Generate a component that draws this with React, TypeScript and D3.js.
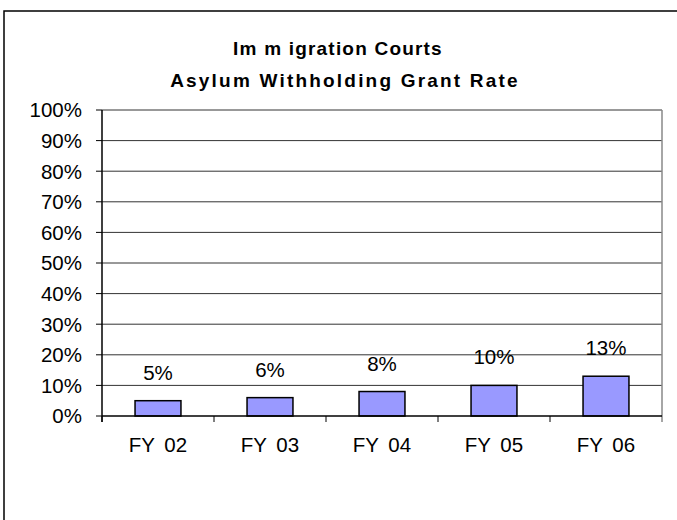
import React from 'react'
import { scaleBand, scaleLinear, range } from 'd3'

const categories = ['FY 02', 'FY 03', 'FY 04', 'FY 05', 'FY 06']
const grantRate = [5, 6, 8, 10, 13]
const yTicks = [0, 10, 20, 30, 40, 50, 60, 70, 80, 90, 100]
const titleLines = ['Im m igration Courts', 'Asylum Withholding Grant Rate']

const W = 677
const H = 520
const margin = { top: 110, right: 15, bottom: 104, left: 102 }
const font = '"Liberation Sans", Arial, sans-serif'

export default function App() {
  const x = scaleBand().domain(categories).range([margin.left, W - margin.right]).paddingInner(0).paddingOuter(0)
  const y = scaleLinear().domain([0, 100]).range([H - margin.bottom, margin.top])
  const barW = x.bandwidth() * 0.41
  const x0 = margin.left
  const x1 = W - margin.right
  const base = y(0)

  return (
    <svg width={W} height={H} style={{ position: 'absolute', left: 0, top: 0, background: '#fff' }}>
      {/* outer frame, runs past the picture on the right and bottom */}
      <rect x={4} y={11} width={W + 10} height={H + 10} fill="none" stroke="#000" strokeWidth={1.5} />

      {titleLines.map((t, i) => (
        <text key={t} x={i === 0 ? 338 : 345} y={55 + i * 32} textAnchor="middle" fontFamily={font} fontWeight="bold" fontSize={19}
          letterSpacing={i === 0 ? 1.2 : 2.2} xmlSpace="preserve">{t}</text>
      ))}

      {yTicks.map(t => (
        <g key={t}>
          {t > 0 && <line x1={x0} x2={x1} y1={y(t)} y2={y(t)} stroke="#333" strokeWidth={1} />}
          <line x1={x0 - 6} x2={x0} y1={y(t)} y2={y(t)} stroke="#000" strokeWidth={1} />
          <text x={82} y={y(t)} dy="0.36em" textAnchor="end" fontFamily={font} fontSize={20.5}>{t}%</text>
        </g>
      ))}

      {/* right edge of plot area */}
      <line x1={x1} x2={x1} y1={margin.top} y2={base + 6} stroke="#888" strokeWidth={1.5} />

      {categories.map((c, i) => (
        <g key={c}>
          <rect x={x(c)! + (x.bandwidth() - barW) / 2} y={y(grantRate[i])} width={barW} height={base - y(grantRate[i])} fill="#9999FF" stroke="#000" strokeWidth={1.5} />
          <text x={x(c)! + x.bandwidth() / 2} y={y(grantRate[i]) - 21} textAnchor="middle" fontFamily={font} fontSize={20.5}>{grantRate[i]}%</text>
          <text x={x(c)! + x.bandwidth() / 2} y={base + 36} textAnchor="middle" fontFamily={font} fontSize={20.5} wordSpacing={4}>{c}</text>
        </g>
      ))}

      {range(categories.length).map(i => (
        <line key={i} x1={x(categories[i])!} x2={x(categories[i])!} y1={base} y2={base + 6} stroke="#000" strokeWidth={1} />
      ))}

      <line x1={x0} x2={x0} y1={margin.top} y2={base + 6} stroke="#000" strokeWidth={1.5} />
      <line x1={x0} x2={x1} y1={base} y2={base} stroke="#000" strokeWidth={1.5} />
    </svg>
  )
}
